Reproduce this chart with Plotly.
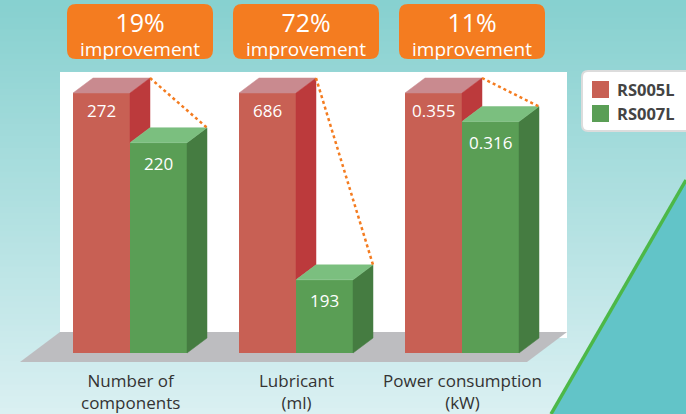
import plotly.graph_objects as go

# ---------------- data ----------------
categories = ["Number of<br>components", "Lubricant<br>(ml)", "Power consumption<br>(kW)"]
series_names = ["RS005L", "RS007L"]
rs005l = [272, 686, 0.355]
rs007l = [220, 193, 0.316]
labels_005 = ["272", "686", "0.355"]
labels_007 = ["220", "193", "0.316"]

# ---------------- styling ----------------
W, H = 686, 414
FONT = "Open Sans"
RED_FRONT, RED_SIDE, RED_TOP = "#c86054", "#bc3a3c", "#c98a8f"
GRN_FRONT, GRN_SIDE, GRN_TOP = "#5a9e55", "#457c41", "#7bbf7f"
ORANGE = "#f47c20"
FLOOR = "#bdbdc0"

# pixel <-> data helpers (axes span the whole figure, margins are 0)
X0_PX, X_UNIT = 130, 166
Y0_PX, Y_UNIT = 353, 260
def px2x(px): return (px - X0_PX) / X_UNIT
def py2y(py): return (Y0_PX - py) / Y_UNIT
def pxp(px): return px / W
def pyp(py): return 1 - py / H

BW = 57 / X_UNIT          # bar width in x units
DX = 20 / X_UNIT          # depth offset x
DY = 15 / Y_UNIT          # depth offset y

xs = list(range(len(categories)))
red_n = [1.0 for _ in rs005l]
grn_n = [g / r for g, r in zip(rs007l, rs005l)]
improve = [round((r - g) / r * 100) for r, g in zip(rs005l, rs007l)]

fig = go.Figure()

# front faces as bars
fig.add_trace(go.Bar(x=xs, y=red_n, width=BW, offset=-BW, marker=dict(color=RED_FRONT, line=dict(width=0)),
                     name=series_names[0], showlegend=False, hoverinfo="skip"))
fig.add_trace(go.Bar(x=xs, y=grn_n, width=BW, offset=0, marker=dict(color=GRN_FRONT, line=dict(width=0)),
                     name=series_names[1], showlegend=False, hoverinfo="skip"))

def poly(pts, color):
    fig.add_trace(go.Scatter(x=[p[0] for p in pts] + [pts[0][0]], y=[p[1] for p in pts] + [pts[0][1]],
                             mode="lines", fill="toself", fillcolor=color,
                             line=dict(color=color, width=0.5), hoverinfo="skip", showlegend=False))

for i, (r, g) in zip(xs, zip(red_n, grn_n)):
    xl = i - BW   # red left
    xm = i        # red right / green left
    xg = i + BW   # green right
    poly([(xl, r), (xm, r), (xm + DX, r + DY), (xl + DX, r + DY)], RED_TOP)
    poly([(xm, g), (xm + DX, g + DY), (xm + DX, r + DY), (xm, r)], RED_SIDE)
    poly([(xg, 0), (xg + DX, DY), (xg + DX, g + DY), (xg, g)], GRN_SIDE)
    poly([(xm, g), (xg, g), (xg + DX, g + DY), (xm + DX, g + DY)], GRN_TOP)
    fig.add_trace(go.Scatter(x=[xm + DX, xg + DX], y=[r + DY, g + DY], mode="lines",
                             line=dict(color=ORANGE, width=2.5, dash="dot"),
                             hoverinfo="skip", showlegend=False))

shapes = []
# background gradient
N = 70
c_top, c_bot = (0x87, 0xd1, 0xd0), (0xda, 0xf0, 0xf2)
for k in range(N):
    t = k / (N - 1)
    c = tuple(int(a + (b - a) * t) for a, b in zip(c_top, c_bot))
    shapes.append(dict(type="rect", xref="paper", yref="paper", x0=0, x1=1,
                       y0=1 - (k + 1) / N - 0.002, y1=1 - k / N,
                       fillcolor="rgb(%d,%d,%d)" % c, line=dict(width=0), layer="below"))
# teal triangle + green line
lx0, ly0, lx1, ly1 = 686, 180, 551, 414
shapes.append(dict(type="path", xref="paper", yref="paper",
                   path="M %f,%f L %f,%f L %f,%f Z" % (pxp(lx0), pyp(ly0), pxp(W), pyp(H), pxp(lx1), pyp(ly1)),
                   fillcolor="#62c4c8", line=dict(width=0), layer="below"))
shapes.append(dict(type="line", xref="paper", yref="paper", x0=pxp(lx0), y0=pyp(ly0), x1=pxp(lx1), y1=pyp(ly1),
                   line=dict(color="#4cb848", width=3.5), layer="below"))
# white panel
shapes.append(dict(type="rect", xref="x", yref="y", x0=px2x(60), x1=px2x(567), y0=py2y(338), y1=py2y(72),
                   fillcolor="white", line=dict(width=0), layer="below"))
# floor
shapes.append(dict(type="path", xref="x", yref="y",
                   path="M %f,%f L %f,%f L %f,%f L %f,%f Z" % (px2x(20), py2y(362), px2x(60), py2y(332),
                                                              px2x(567), py2y(332), px2x(527), py2y(362)),
                   fillcolor=FLOOR, line=dict(width=0), layer="below"))

def rrect(x0, y0, x1, y1, r, fill, line=None):
    rx, ry = r / W, r / H
    a0, b0, a1, b1 = pxp(x0), pyp(y0), pxp(x1), pyp(y1)
    p = ("M %f,%f L %f,%f Q %f,%f %f,%f L %f,%f Q %f,%f %f,%f L %f,%f Q %f,%f %f,%f L %f,%f Q %f,%f %f,%f Z" %
         (a0 + rx, b0, a1 - rx, b0, a1, b0, a1, b0 - ry, a1, b1 + ry, a1, b1, a1 - rx, b1,
          a0 + rx, b1, a0, b1, a0, b1 + ry, a0, b0 - ry, a0, b0, a0 + rx, b0))
    return dict(type="path", xref="paper", yref="paper", path=p, fillcolor=fill,
                line=line or dict(width=0), layer="above")

annotations = []
# improvement boxes
for i, imp in zip(xs, improve):
    cx = X0_PX + X_UNIT * i + 10
    shapes.append(rrect(cx - 73, 4, cx + 73, 59, 9, ORANGE))
    annotations.append(dict(xref="paper", yref="paper", x=pxp(cx), y=pyp(33),
                            text=("<span style='font-size:25px'>%d%%</span><br>"
                                  "<span style='font-size:19px'>improvement</span>") % imp,
                            showarrow=False, font=dict(family=FONT, size=18.5, color="white"),
                            xanchor="center", yanchor="middle"))

# value labels
for i, r, g, lr, lg in zip(xs, red_n, grn_n, labels_005, labels_007):
    annotations.append(dict(x=i - BW / 2, y=r, yshift=-17, text=lr, showarrow=False,
                            font=dict(family=FONT, size=17, color="white"), yanchor="middle"))
    annotations.append(dict(x=i + BW / 2, y=g, yshift=-21, text=lg, showarrow=False,
                            font=dict(family=FONT, size=17, color="white"), yanchor="middle"))

# category labels
for i, c in zip(xs, categories):
    annotations.append(dict(x=i, y=py2y(391), text=c, showarrow=False,
                            font=dict(family=FONT, size=17, color="#333333"), yanchor="middle"))

# legend (custom)
shapes.append(rrect(582, 71, 692, 131, 6, "white", dict(color="#dcdcdc", width=2)))
for k, (nm, col) in enumerate(zip(series_names, [RED_FRONT, GRN_FRONT])):
    y0 = 81 + 24 * k
    shapes.append(dict(type="rect", xref="paper", yref="paper", x0=pxp(592), x1=pxp(609),
                       y0=pyp(y0 + 17), y1=pyp(y0), fillcolor=col, line=dict(width=0)))
    annotations.append(dict(xref="paper", yref="paper", x=pxp(615), y=pyp(y0 + 8.5), text="<b>%s</b>" % nm,
                            showarrow=False, xanchor="left", yanchor="middle",
                            font=dict(family=FONT, size=16.5, color="#444444")))

fig.update_layout(
    width=W, height=H, margin=dict(l=0, r=0, t=0, b=0),
    paper_bgcolor="#cfecee", plot_bgcolor="rgba(0,0,0,0)",
    xaxis=dict(range=[px2x(0), px2x(W)], visible=False, fixedrange=True),
    yaxis=dict(range=[py2y(H), py2y(0)], visible=False, fixedrange=True),
    barmode="overlay", showlegend=False,
    shapes=shapes, annotations=annotations,
)

fig.write_html("out.html", config={"displayModeBar": False},
               post_script="document.body.style.margin='0';document.body.style.overflow='hidden';")
